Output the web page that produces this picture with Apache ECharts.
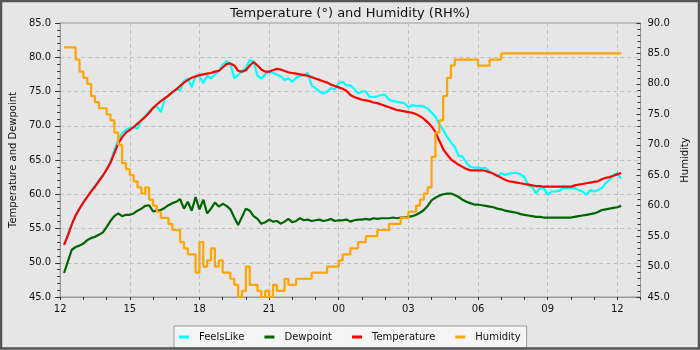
<!DOCTYPE html>
<html>
<head>
<meta charset="utf-8">
<script src="https://cdn.jsdelivr.net/npm/echarts@6/dist/echarts.min.js"></script>
<style>
  html, body { margin: 0; padding: 0; background: #e6e6e6; }
  #chart { width: 700px; height: 350px; }
</style>
</head>
<body>
<div id="chart"></div>
<script>
// Samples every 10 minutes, starting 12:10 (hours counted from 12:00)
const firstSampleMinutes = 10;
const sampleStepMinutes = 10;

const feelsLike = [
  52.6, 54.0, 55.6, 56.9, 57.9, 58.8,
  59.6, 60.5, 61.2, 62.0, 62.7, 63.6,
  64.8, 66.4, 68.0, 68.9, 69.4, 69.7,
  69.8, 69.6, 70.9, 71.4, 72.1, 72.6,
  72.8, 72.0, 73.8, 74.5, 74.8, 75.3,
  75.2, 76.5, 76.9, 75.6, 77.3, 77.2,
  76.2, 77.3, 76.9, 77.5, 78.0, 78.9,
  79.4, 79.1, 76.9, 77.4, 78.0, 78.4,
  79.6, 79.4, 77.3, 76.9, 77.5, 77.9,
  77.7, 77.5, 77.2, 76.7, 76.9, 76.4,
  77.0, 77.3, 77.4, 77.7, 75.9, 75.5,
  75.0, 74.7, 75.0, 75.5, 75.3, 76.2,
  76.4, 75.9, 75.9, 75.4, 74.7, 75.0,
  75.0, 74.2, 74.2, 74.3, 74.5, 74.5,
  73.8, 73.6, 73.5, 73.4, 73.3, 72.7,
  73.0, 72.9, 72.9, 72.8, 72.5, 71.9,
  71.3, 70.2, 69.4, 68.4, 67.6, 66.9,
  65.6, 65.5, 64.6, 64.0, 63.9, 63.9,
  63.8, 63.8, 63.3, 63.0, 62.6, 63.1,
  62.8, 63.0, 63.1, 63.1, 62.9, 62.5,
  61.3, 61.1, 60.1, 60.9, 60.9, 59.9,
  60.4, 60.4, 60.5, 60.9, 60.9, 60.9,
  60.9, 60.6, 60.4, 59.9, 60.6, 60.4,
  60.6, 60.9, 61.6, 62.1, 62.8, 63.1,
  62.3
];

const dewpoint = [
  48.5, 50.2, 51.9, 52.3, 52.5, 52.8,
  53.3, 53.6, 53.8, 54.1, 54.4, 55.2,
  56.1, 56.8, 57.2, 56.8, 57.0, 57.0,
  57.2, 57.6, 57.9, 58.3, 58.4, 57.5,
  57.6, 57.7, 58.0, 58.4, 58.7, 58.9,
  59.3, 57.9, 58.9, 57.6, 59.6, 57.8,
  59.2, 57.2, 57.9, 58.8, 58.2, 58.6,
  58.3, 57.8, 56.6, 55.5, 56.7, 57.9,
  57.6, 56.8, 56.4, 55.7, 55.9, 56.3,
  56.0, 56.1, 55.7, 56.0, 56.4, 55.9,
  56.1, 56.5, 56.2, 56.3, 56.1, 56.2,
  56.3, 56.1, 56.2, 56.4, 56.1, 56.2,
  56.2, 56.3, 56.0, 56.2, 56.3, 56.3,
  56.4, 56.3, 56.5, 56.4, 56.5, 56.5,
  56.5, 56.6, 56.5, 56.6, 56.6, 56.7,
  56.8, 57.0, 57.3, 57.7, 58.3, 59.1,
  59.5, 59.8, 60.0, 60.1, 60.1, 59.9,
  59.6, 59.2, 58.9, 58.7, 58.5, 58.5,
  58.4, 58.3, 58.2, 58.1, 57.9, 57.8,
  57.6, 57.5, 57.4, 57.3, 57.1, 57.0,
  56.9, 56.8, 56.7, 56.7, 56.6, 56.6,
  56.6, 56.6, 56.6, 56.6, 56.6, 56.6,
  56.7, 56.8, 56.9, 57.0, 57.1, 57.2,
  57.4, 57.7, 57.8, 57.9, 58.0, 58.1,
  58.3
];

const temperature = [
  52.6, 54.0, 55.6, 56.9, 57.9, 58.8,
  59.6, 60.4, 61.1, 61.9, 62.7, 63.6,
  64.6, 66.0, 67.4, 68.3, 69.0, 69.4,
  69.8, 70.3, 70.8, 71.3, 71.9, 72.6,
  73.1, 73.6, 74.0, 74.4, 74.9, 75.3,
  75.8, 76.3, 76.7, 77.0, 77.2, 77.4,
  77.5, 77.6, 77.7, 77.9, 78.0, 78.5,
  79.0, 79.1, 78.8, 78.0, 77.9, 78.1,
  78.8, 79.3, 78.8, 78.2, 77.9, 77.9,
  78.1, 78.3, 78.2, 78.0, 77.8, 77.7,
  77.6, 77.5, 77.4, 77.3, 77.1, 76.9,
  76.7, 76.5, 76.3, 76.0, 75.8, 75.6,
  75.4, 75.1, 74.5, 74.2, 74.0, 73.8,
  73.7, 73.6, 73.4, 73.3, 73.1, 72.9,
  72.7, 72.5, 72.3, 72.2, 72.1, 72.0,
  71.9, 71.7, 71.4, 71.0, 70.5, 69.9,
  69.1, 67.8, 66.6, 65.8, 65.1, 64.7,
  64.3, 64.0, 63.7, 63.5, 63.5, 63.5,
  63.5, 63.4, 63.2, 63.0, 62.7, 62.4,
  62.1, 61.9, 61.8, 61.7, 61.6, 61.5,
  61.4, 61.3, 61.2, 61.2, 61.1, 61.1,
  61.1, 61.1, 61.1, 61.1, 61.1, 61.1,
  61.3, 61.4, 61.5, 61.6, 61.7, 61.8,
  61.9, 62.2, 62.4, 62.5, 62.7, 62.9,
  63.1
];

const humidity = [
  86, 86, 86, 84, 82, 81,
  80, 78, 77, 76, 76, 75,
  74, 72, 70, 67, 66, 65,
  64, 63, 62, 63, 61, 60,
  59, 58, 58, 57, 56, 56,
  54, 53, 52, 52, 49, 54,
  50, 51, 53, 50, 51, 49,
  49, 48, 47, 45, 46, 50,
  47, 47, 46, 45, 46, 45,
  47, 46, 46, 48, 47, 47,
  48, 48, 48, 48, 49, 49,
  49, 49, 50, 50, 50, 51,
  52, 52, 53, 53, 54, 54,
  55, 55, 55, 56, 56, 56,
  57, 57, 57, 58, 58, 59,
  59, 60, 61, 62, 63, 68,
  72, 74, 78, 81, 83, 84,
  84, 84, 84, 84, 84, 83,
  83, 83, 84, 84, 84, 85,
  85, 85, 85, 85, 85, 85,
  85, 85, 85, 85, 85, 85,
  85, 85, 85, 85, 85, 85,
  85, 85, 85, 85, 85, 85,
  85, 85, 85, 85, 85, 85,
  85
];

const seriesNames = ['FeelsLike', 'Dewpoint', 'Temperature', 'Humidity'];
const seriesColors = ['#00ffff', '#006400', '#ff0000', '#ffa500'];

// x positions in hours after 12:00
const sampleHours = feelsLike.map((_, i) => (firstSampleMinutes + i * sampleStepMinutes) / 60);
const pairs = values => values.map((v, i) => [sampleHours[i], v]);

const fontFamily = '"DejaVu Sans", sans-serif';
const gridLine = { show: true, lineStyle: { color: '#c0c0c0', type: [4, 3], width: 1 } };

const chart = echarts.init(document.getElementById('chart'), null, { renderer: 'canvas' });
chart.setOption({
  backgroundColor: '#e6e6e6',
  animation: false,
  textStyle: { fontFamily: fontFamily },
  title: {
    text: 'Temperature (°) and Humidity (RH%)',
    left: 'center',
    top: 2,
    textStyle: { fontFamily: fontFamily, fontSize: 13, fontWeight: 'normal', color: '#111' }
  },
  graphic: [{
    type: 'rect',
    shape: { x: 1, y: 1, width: 698, height: 347.5 },
    style: { fill: 'none', stroke: '#555', lineWidth: 2.5 },
    z: 100
  }],
  legend: {
    data: seriesNames,
    bottom: 2,
    left: 174,
    padding: [6, 6, 6, 5],
    itemGap: 20,
    itemWidth: 10,
    itemHeight: 3,
    icon: 'rect',
    backgroundColor: '#f5f5f5',
    borderColor: '#999',
    borderWidth: 1,
    borderRadius: 0,
    textStyle: { fontFamily: fontFamily, fontSize: 10, color: '#111', padding: [0, 0, 0, 5] }
  },
  grid: {
    left: 55, right: 59.5, top: 23, bottom: 53,
    show: true, borderColor: '#999', borderWidth: 1, backgroundColor: 'transparent'
  },
  xAxis: {
    type: 'value',
    min: 0, max: 25, interval: 3,
    axisLine: { lineStyle: { color: '#999' } },
    axisTick: { length: 3, lineStyle: { color: '#333' } },
    minorTick: { show: true, splitNumber: 3, length: 3, lineStyle: { color: '#333' } },
    axisLabel: {
      color: '#111', fontSize: 10, margin: 7, showMaxLabel: false,
      formatter: h => String((12 + h) % 24).padStart(2, '0')
    },
    splitLine: gridLine
  },
  yAxis: [{
    type: 'value',
    min: 45, max: 85, interval: 5,
    name: 'Temperature and Dewpoint',
    nameLocation: 'middle',
    nameGap: 38,
    nameTextStyle: { fontFamily: fontFamily, fontSize: 10, color: '#111' },
    axisLine: { show: true, lineStyle: { color: '#999' } },
    axisTick: { show: true, length: 5, lineStyle: { color: '#333' } },
    minorTick: { show: true, splitNumber: 5, length: 3, lineStyle: { color: '#333' } },
    axisLabel: { color: '#111', fontSize: 10, margin: 9, formatter: v => v.toFixed(1) },
    splitLine: gridLine
  }, {
    type: 'value',
    min: 45, max: 90, interval: 5,
    name: 'Humidity',
    nameLocation: 'middle',
    nameGap: 36,
    nameTextStyle: { fontFamily: fontFamily, fontSize: 10, color: '#111' },
    position: 'right',
    axisLine: { show: true, lineStyle: { color: '#999' } },
    axisTick: { show: true, inside: true, length: 4, lineStyle: { color: '#333' } },
    minorTick: { show: true, splitNumber: 5, length: 3, lineStyle: { color: '#333' } },
    axisLabel: { color: '#111', fontSize: 10, margin: 7, formatter: v => v.toFixed(1) },
    splitLine: { show: false }
  }],
  series: [
    { name: 'FeelsLike', type: 'line', yAxisIndex: 0, data: pairs(feelsLike),
      showSymbol: false, color: seriesColors[0], lineStyle: { width: 2.2 } },
    { name: 'Dewpoint', type: 'line', yAxisIndex: 0, data: pairs(dewpoint),
      showSymbol: false, color: seriesColors[1], lineStyle: { width: 2.2 } },
    { name: 'Temperature', type: 'line', yAxisIndex: 0, data: pairs(temperature),
      showSymbol: false, color: seriesColors[2], lineStyle: { width: 2.2 } },
    { name: 'Humidity', type: 'line', yAxisIndex: 1, data: pairs(humidity), step: 'end',
      showSymbol: false, color: seriesColors[3], lineStyle: { width: 2.2 } }
  ]
});
</script>
</body>
</html>
